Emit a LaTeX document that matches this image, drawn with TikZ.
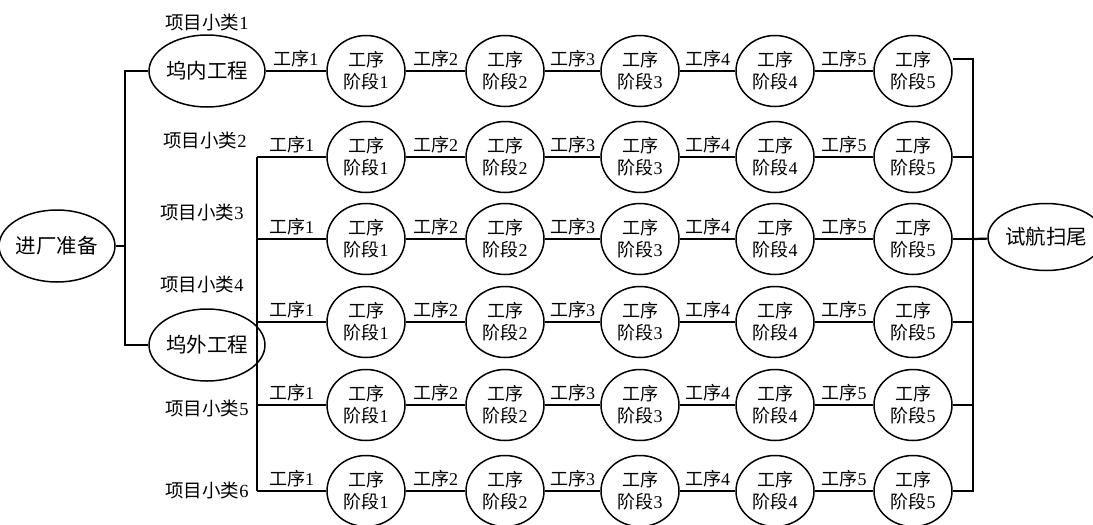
\documentclass[tikz,border=0pt]{standalone}
\usepackage{fontspec}
\setmainfont{Liberation Serif}
\newfontfamily\cjk{Noto Sans CJK SC}
\usetikzlibrary{shapes.geometric}
\newcommand\gx[1]{{\cjk 工序}#1}
\tikzset{
  stage/.style={ellipse, draw, line width=1.5pt, minimum width=78pt, minimum height=71pt,
    inner sep=0pt, align=center, font=\fontsize{18}{22}\selectfont},
  big/.style={ellipse, draw, line width=1.5pt, minimum width=99pt, minimum height=72pt,
    inner sep=0pt, font=\fontsize{20.5}{24}\selectfont\cjk},
  conn/.style={line width=2.2pt},
  lbl/.style={font=\fontsize{18}{20}\selectfont, inner sep=0pt},
  cat/.style={font=\fontsize{18.5}{20}\selectfont, inner sep=0pt}
}
\begin{document}
\begin{tikzpicture}[x=1pt,y=-1pt]
\useasboundingbox (0,0) rectangle (1093,525);
% main ellipses
\node[big] (jz) at (57,246) {进厂准备};
\node[big] (wn) at (207,71) {坞内工程};
\node[big] (ww) at (207,345) {坞外工程};
\node[big, minimum width=93pt, minimum height=67pt] (sh) at (1046,237) {试航扫尾};
% category labels
\node[cat] (k1) at (207,22) {{\cjk 项目小类}1};
\node[cat] (k2) at (205,140) {{\cjk 项目小类}2};
\node[cat] (k3) at (202,212) {{\cjk 项目小类}3};
\node[cat] (k4) at (202,284) {{\cjk 项目小类}4};
\node[cat] (k5) at (207,408) {{\cjk 项目小类}5};
\node[cat] (k6) at (207,490) {{\cjk 项目小类}6};
% stage circles
\foreach \r/\y in {1/71,2/157,3/239,4/322,5/405,6/491}{
  \foreach \k/\x in {1/366,2/505,3/640,4/775,5/913}{
    \node[stage] (c\r\k) at (\x,\y) {{\cjk 工序}\\{\cjk 阶段}\k};
  }
  \foreach \k/\p in {2/1,3/2,4/3,5/4}{
    \draw[conn] (c\r\p) -- (c\r\k) node[lbl, midway, yshift=12pt] (l\r\k) {\gx{\k}};
  }
  \coordinate (r\r) at (973,\y);
}
% left tree
\coordinate (ja) at (125,71);
\coordinate (jm) at (125,246);
\coordinate (jb) at (125,345);
\draw[conn] (wn.west) -- (ja) -- (jb) -- (ww.west);
\draw[conn] (jz.east) -- (jm);
\draw[conn] (wn) -- (c11) node[lbl, midway, yshift=12pt] (l11) {\gx{1}};
% left bus for rows 2-6
\foreach \r/\y in {2/157,3/239,4/322,5/405,6/491}{
  \coordinate (b\r) at (257,\y);
  \draw[conn] (b\r) -- (c\r1) node[lbl, midway, yshift=12pt] (l\r1) {\gx{1}};
}
\draw[conn] (b2) -- (b6);
% right bus
\coordinate (rt) at (973,59);
\coordinate (rb) at (973,492);
\draw[conn] (c15.east |- rt) -- (rt) -- (rb);
\foreach \r in {2,...,6}{
  \draw[conn] (c\r5) -- (r\r);
}
\draw[conn] (r3) -- (sh);
\end{tikzpicture}
\end{document}
